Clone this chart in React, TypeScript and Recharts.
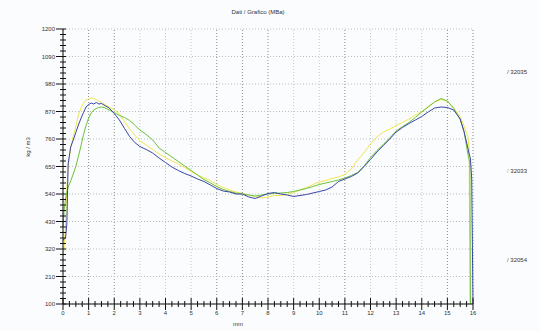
import React from 'react';
import { LineChart, Line, XAxis, YAxis, ReferenceLine } from 'recharts';

// depth (mm) across the board thickness
const depth = [
  0, 0.05, 0.1, 0.15, 0.2, 0.3, 0.4, 0.5, 0.6, 0.7, 0.8, 0.9, 1.0, 1.1, 1.2, 1.3, 1.4, 1.5, 1.6,
  1.8, 2.0, 2.2, 2.4, 2.6, 2.8, 3.0,
  3.25, 3.5, 3.75, 4.0, 4.25, 4.5, 4.75, 5.0, 5.25, 5.5, 5.75, 6.0, 6.25, 6.5, 6.75, 7.0,
  7.25, 7.5, 7.75, 8.0, 8.25, 8.5, 8.75, 9.0, 9.25, 9.5, 9.75, 10.0, 10.25, 10.5, 10.75, 11.0,
  11.25, 11.5, 11.75, 12.0, 12.25, 12.5, 12.75, 13.0, 13.25, 13.5, 13.75, 14.0, 14.25, 14.5, 14.75, 15.0,
  15.25, 15.5, 15.65, 15.8, 15.85, 15.88, 15.9, 15.95, 16.0,
];

const s32035 = [
  356, 360, 364, 420, 660, 728, 756, 786, 816, 842, 866, 888, 898, 904, 900, 906, 900, 902, 896,
  884, 862, 836, 802, 770, 746, 730,
  718, 704, 684, 666, 648, 634, 622, 612, 600, 590, 576, 562, 552, 548, 540, 540,
  528, 522, 532, 542, 546, 540, 536, 530, 534, 538, 544, 550, 556, 568, 590, 600,
  610, 624, 650, 678, 708, 734, 760, 788, 806, 822, 836, 850, 868, 884, 888, 886,
  876, 840, 790, 724, 700, 690, 680, 600, 100,
];

const s32033 = [
  410, 480, 520, 548, 566, 592, 620, 650, 690, 732, 778, 814, 844, 864, 876, 882, 886, 888, 886,
  876, 866, 854, 846, 834, 816, 796,
  778, 756, 724, 706, 688, 670, 652, 634, 616, 598, 584, 570, 558, 550, 544, 540,
  536, 532, 536, 540, 542, 544, 546, 550, 556, 562, 570, 578, 584, 590, 596, 604,
  614, 626, 652, 686, 714, 738, 764, 792, 810, 826, 846, 868, 888, 908, 922, 912,
  882, 838, 790, 700, 676, 660, 100, null, null,
];

const s32054 = [
  290, 330, 420, 560, 648, 728, 770, 810, 856, 884, 904, 916, 920, 924, 922, 918, 912, 906, 900,
  888, 876, 860, 830, 800, 776, 752,
  736, 718, 700, 686, 672, 660, 646, 630, 616, 604, 594, 578, 566, 556, 548, 542,
  536, 530, 524, 528, 534, 534, 538, 546, 556, 566, 578, 588, 594, 602, 608, 618,
  640, 676, 706, 740, 768, 788, 800, 814, 826, 840, 856, 870, 890, 908, 918, 910,
  884, 850, 812, 768, 720, 100, null, null, null,
];

const yMajor = [100, 210, 320, 430, 540, 650, 760, 870, 980, 1090, 1200];
const xMajor = [0, 1, 2, 3, 4, 5, 6, 7, 8, 9, 10, 11, 12, 13, 14, 15, 16];
const darkGrid = [1, 2, 6, 7, 8, 11, 15, 16];

const yTicks: number[] = [];
for (let v = 100; v <= 1200; v += 22) yTicks.push(v);
const xTicks: number[] = [];
for (let v = 0; v <= 16; v += 0.25) xTicks.push(v);

const data = depth.map((d, i) => ({
  d,
  a: s32035[i],
  b: s32033[i],
  c: s32054[i],
}));

const font = 'Liberation Sans, Arial, sans-serif';

function YTick({ x, y, payload }: any) {
  const v = payload.value;
  const major = yMajor.includes(v);
  return (
    <g>
      <line x1={major ? x - 7 : x - 3} x2={x + 3} y1={y} y2={y} stroke="#111" strokeWidth={1} />
      {major && (
        <text x={x - 8} y={y + 2} textAnchor="end" fontSize={6} fill="#333" fontFamily={font}>
          {v}
        </text>
      )}
    </g>
  );
}

function XTick({ x, y, payload }: any) {
  const v = payload.value;
  const major = xMajor.includes(v);
  return (
    <g>
      <line x1={x} x2={x} y1={major ? y - 6 : y - 3} y2={major ? y + 6 : y + 3} stroke="#111" strokeWidth={1} />
      {major && (
        <text x={x} y={y + 11} textAnchor="middle" fontSize={6} fill="#333" fontFamily={font}>
          {v}
        </text>
      )}
    </g>
  );
}

const legend = [
  { name: '32035', color: '#3a46a8', top: 69 },
  { name: '32033', color: '#6cc23a', top: 168 },
  { name: '32054', color: '#555555', top: 257 },
];

export default function App() {
  return (
    <div style={{ position: 'fixed', left: 0, top: 0, width: 540, height: 331, background: '#fbfcfd', overflow: 'hidden', fontFamily: font }}>
      <div style={{ position: 'absolute', left: 0, top: 9, width: 516, textAlign: 'center', fontSize: 6, color: '#333' }}>
        Dati / Grafico (MBa)
      </div>
      <div style={{ position: 'absolute', left: 28, top: 147, fontSize: 6, color: '#333', transform: 'translate(-50%, -50%) rotate(-90deg)', whiteSpace: 'nowrap' }}>
        kg / m3
      </div>
      <div style={{ position: 'absolute', left: 233, top: 321, fontSize: 6, color: '#333' }}>mm</div>
      {legend.map(l => (
        <div key={l.name} style={{ position: 'absolute', left: 507, top: l.top, fontSize: 6, color: '#333', whiteSpace: 'nowrap' }}>
          <span style={{ color: l.color }}>/</span> {l.name}
        </div>
      ))}
      <LineChart width={540} height={331} data={data} margin={{ top: 29, right: 67, left: 0, bottom: 0 }}>
        {xMajor.map(v => (
          <ReferenceLine key={'v' + v} x={v} stroke={darkGrid.includes(v) ? '#8a8a8a' : '#c8c8c8'} strokeDasharray="1 2" />
        ))}
        {yMajor.map(v => (
          <ReferenceLine key={'h' + v} y={v} stroke="#bdbdbd" strokeDasharray="1 2" />
        ))}
        <XAxis
          dataKey="d"
          type="number"
          domain={[0, 16]}
          ticks={xTicks}
          interval={0}
          height={27}
          tickSize={0}
          tickMargin={0}
          tick={<XTick />}
          axisLine={{ stroke: '#111' }}
        />
        <YAxis
          type="number"
          domain={[100, 1200]}
          ticks={yTicks}
          interval={0}
          width={63}
          tickSize={0}
          tickMargin={0}
          tick={<YTick />}
          axisLine={{ stroke: '#111' }}
          allowDataOverflow
        />
        <Line dataKey="c" stroke="#f0e650" strokeWidth={1} dot={false} isAnimationActive={false} />
        <Line dataKey="b" stroke="#6cc23a" strokeWidth={1} dot={false} isAnimationActive={false} />
        <Line dataKey="a" stroke="#3a46a8" strokeWidth={1} dot={false} isAnimationActive={false} />
      </LineChart>
    </div>
  );
}
